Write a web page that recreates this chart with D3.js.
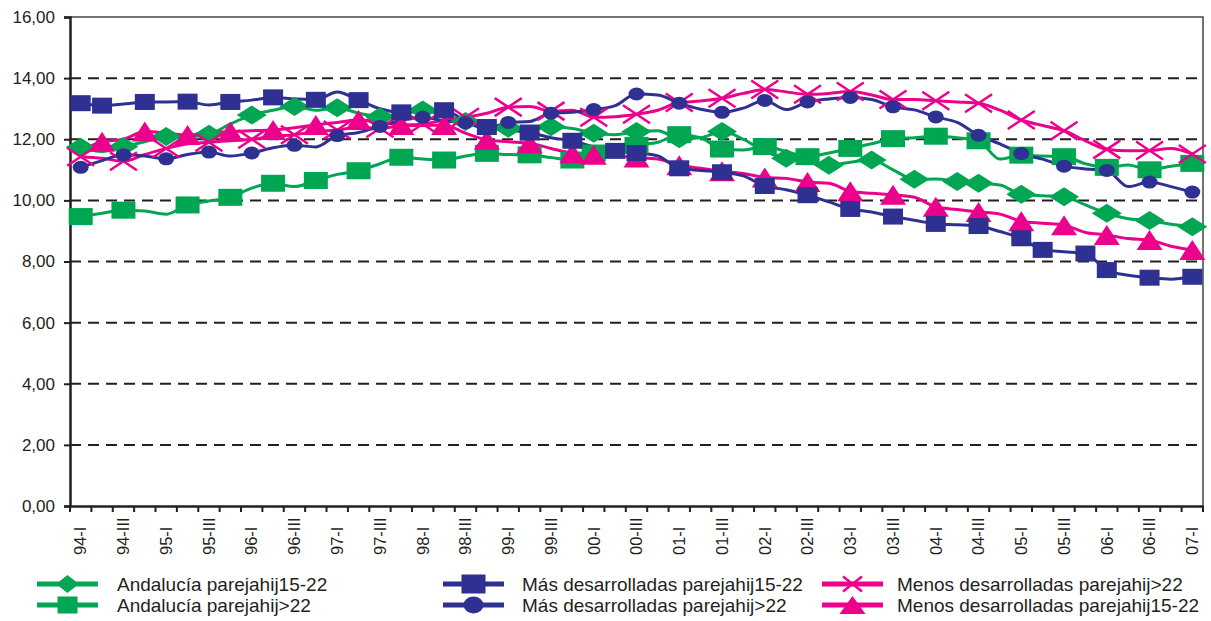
<!DOCTYPE html>
<html><head><meta charset="utf-8">
<script src="https://cdn.jsdelivr.net/npm/d3@7"></script>
<style>
body{margin:0;background:#fff}
svg{display:block}
text{font-family:"Liberation Sans",Arial,Helvetica,sans-serif;fill:#231f20}
</style>
</head><body>
<svg id="c" width="1211" height="621"></svg>
<script>
// ---------- DATA ----------
const quarters = [
 "94-I","94-II","94-III","94-IV","95-I","95-II","95-III","95-IV",
 "96-I","96-II","96-III","96-IV","97-I","97-II","97-III","97-IV",
 "98-I","98-II","98-III","98-IV","99-I","99-II","99-III","99-IV",
 "00-I","00-II","00-III","00-IV","01-I","01-II","01-III","01-IV",
 "02-I","02-II","02-III","02-IV","03-I","03-II","03-III","03-IV",
 "04-I","04-II","04-III","04-IV","05-I","05-II","05-III","05-IV",
 "06-I","06-II","06-III","06-IV","07-I"
];
const yTicks = [0,2,4,6,8,10,12,14,16];

const andalucia1522 = [
 11.74,11.60,11.76,11.92,12.09,12.08,12.16,12.50,12.79,12.95,
 13.07,12.95,13.03,12.85,12.74,12.80,12.96,12.75,12.58,12.40,
 12.36,12.30,12.41,12.35,12.20,12.15,12.25,12.28,12.02,12.05,
 12.25,12.00,11.60,11.38,11.28,11.15,11.25,11.32,11.00,10.69,
 10.70,10.62,10.56,10.50,10.20,10.15,10.12,9.85,9.58,9.40,
 9.34,9.22,9.14];
const andaluciaMas22 = [
 9.47,9.58,9.68,9.65,9.55,9.85,9.98,10.10,10.40,10.56,
 10.45,10.65,10.85,10.97,11.20,11.41,11.35,11.32,11.45,11.54,
 11.50,11.49,11.40,11.32,11.55,11.60,11.80,11.90,12.15,12.05,
 11.68,11.65,11.76,11.60,11.43,11.55,11.70,11.85,12.02,12.05,
 12.10,12.05,11.95,11.35,11.48,11.45,11.43,11.20,11.08,11.16,
 11.00,11.12,11.21];
const masDes1522 = [
 13.18,13.10,13.15,13.22,13.22,13.23,13.12,13.22,13.28,13.37,
 13.32,13.29,13.55,13.28,13.00,12.88,12.93,12.95,12.60,12.40,
 12.30,12.22,12.05,11.95,11.75,11.62,11.55,11.45,11.05,10.98,
 10.92,10.80,10.47,10.35,10.17,9.95,9.72,9.62,9.47,9.35,
 9.23,9.20,9.16,8.98,8.76,8.38,8.32,8.26,7.72,7.55,
 7.47,7.42,7.50];
const masDesMas22 = [
 11.08,11.30,11.49,11.45,11.36,11.50,11.58,11.45,11.55,11.72,
 11.80,11.75,12.12,12.22,12.42,12.62,12.72,12.60,12.54,12.35,
 12.55,12.58,12.85,12.88,12.97,13.10,13.48,13.45,13.18,12.98,
 12.88,13.02,13.27,12.97,13.22,13.32,13.37,13.30,13.06,12.96,
 12.73,12.55,12.13,11.85,11.53,11.35,11.12,11.03,10.98,10.45,
 10.60,10.45,10.27];
const menosDesMas22 = [
 11.43,11.38,11.28,11.50,11.70,11.85,11.90,11.95,12.00,12.10,
 12.15,12.25,12.30,12.40,12.36,12.45,12.50,12.62,12.72,12.85,
 13.05,13.07,12.92,12.95,12.72,12.74,12.82,12.95,13.20,13.25,
 13.34,13.50,13.63,13.55,13.47,13.50,13.56,13.45,13.30,13.30,
 13.26,13.22,13.18,12.95,12.63,12.45,12.28,11.95,11.67,11.62,
 11.63,11.70,11.52];
const menosDes1522 = [
 11.60,11.92,12.00,12.25,12.20,12.14,12.20,12.25,12.28,12.30,
 12.38,12.47,12.55,12.63,12.55,12.47,12.45,12.47,12.20,11.98,
 11.92,11.87,11.70,11.54,11.49,11.45,11.40,11.35,11.15,11.05,
 10.95,10.88,10.75,10.72,10.60,10.56,10.30,10.23,10.18,10.10,
 9.79,9.70,9.62,9.55,9.32,9.25,9.19,8.95,8.87,8.75,
 8.70,8.50,8.38];

// quarter indices where the markers are shown
const evenIdx = d3.range(0, 53, 2);
const markAndalucia1522 = [0,2,4,6,8,10,12,14,16,18,20,22,24,26,28,30,33,35,37,39,41,42,44,46,48,50,52];
const markAndaluciaMas22 = [0,2,5,7,9,11,13,15,17,19,21,23,24,26,28,30,32,34,36,38,40,42,44,46,48,50,52];
const markMasDes1522 = [0,1,3,5,7,9,11,13,15,17,19,21,23,25,26,28,30,32,34,36,38,40,42,44,45,47,48,50,52];
const markMasDesMas22 = evenIdx;
const markMenosDesMas22 = evenIdx;
const markMenosDes1522 = [1,3,5,7,9,11,13,15,17,19,21,23,24,26,28,30,32,34,36,38,40,42,44,46,48,50,52];

const GREEN = "#00a651", NAVY = "#2e3192", MAGENTA = "#ec008c";

const series = [
 {name:"Andalucía parejahij>22", values:andaluciaMas22, marks:markAndaluciaMas22, color:GREEN, shape:"square", w:24, h:17, lw:20, lh:17},
 {name:"Andalucía parejahij15-22", values:andalucia1522, marks:markAndalucia1522, color:GREEN, shape:"diamond", w:30, h:19, lw:23, lh:18},
 {name:"Menos desarrolladas parejahij>22", values:menosDesMas22, marks:markMenosDesMas22, color:MAGENTA, shape:"x", w:27, h:18, lw:19, lh:15},
 {name:"Menos desarrolladas parejahij15-22", values:menosDes1522, marks:markMenosDes1522, color:MAGENTA, shape:"triangle", w:26, h:20, lw:26, lh:18},
 {name:"Más desarrolladas parejahij>22", values:masDesMas22, marks:markMasDesMas22, color:NAVY, shape:"circle", w:16, h:13, lw:20, lh:17},
 {name:"Más desarrolladas parejahij15-22", values:masDes1522, marks:markMasDes1522, color:NAVY, shape:"square", w:20, h:16, lw:24, lh:19}
];
const legendOrder = [
 ["Andalucía parejahij15-22","Andalucía parejahij>22"],
 ["Más desarrolladas parejahij15-22","Más desarrolladas parejahij>22"],
 ["Menos desarrolladas parejahij>22","Menos desarrolladas parejahij15-22"]
];

// ---------- CHART ----------
const svg = d3.select("#c");
svg.append("rect").attr("width",1211).attr("height",621).attr("fill","#fff");
const P = {left:70, right:1203, top:17, bottom:506};
const INK = "#231f20";

const x = d3.scaleBand().domain(quarters).range([P.left, P.right]).padding(0);
const cx = q => x(q) + x.bandwidth()/2;
const y = d3.scaleLinear().domain([0,16]).range([P.bottom, P.top]);
const loc = d3.formatLocale({decimal:",", thousands:".", grouping:[3], currency:["","€"]});
const fmt = loc.format(".2f");

// gridlines
svg.append("g").selectAll("line").data(yTicks.filter(v => v > 0 && v < 16)).join("line")
  .attr("x1", P.left).attr("x2", P.right)
  .attr("y1", d => y(d)).attr("y2", d => y(d))
  .attr("stroke", INK).attr("stroke-width", 2).attr("stroke-dasharray", "11,7");

// plot border (top / right)
svg.append("path")
  .attr("d", `M${P.left},${P.top}H${P.right}V${P.bottom}`)
  .attr("fill","none").attr("stroke", "#444").attr("stroke-width", 1.5);

// y axis
const yAxis = d3.axisLeft(y).tickValues(yTicks).tickFormat(fmt).tickSize(6).tickPadding(9);
const gy = svg.append("g").attr("transform", `translate(${P.left},0)`).call(yAxis);
gy.select(".domain").attr("stroke", INK).attr("stroke-width", 2.5);
gy.selectAll(".tick line").attr("stroke", INK).attr("stroke-width", 2);
gy.selectAll(".tick text").attr("font-size", 17).attr("fill", INK)
  .style("font-family", '"Liberation Sans",Arial,sans-serif');

// x axis
const xAxis = d3.axisBottom(x).tickValues(quarters.filter((d,i) => i % 2 === 0)).tickSize(0).tickFormat("");
const gx = svg.append("g").attr("transform", `translate(0,${P.bottom})`).call(xAxis);
gx.select(".domain").attr("stroke", INK).attr("stroke-width", 2.5);
// tick marks between categories
svg.append("g").selectAll("line").data(quarters.map(q => x(q)).concat([P.right])).join("line")
  .attr("x1", d => d).attr("x2", d => d)
  .attr("y1", P.bottom).attr("y2", P.bottom + 6)
  .attr("stroke", INK).attr("stroke-width", 2);
// rotated labels
svg.append("g").selectAll("text").data(quarters.filter((d,i) => i % 2 === 0)).join("text")
  .attr("transform", d => `translate(${cx(d)},555) rotate(-90)`)
  .attr("dy", "0.35em").attr("text-anchor", "start")
  .attr("font-size", 16.5).text(d => d);

// markers
function drawMarker(g, s, w, h, cxp, cyp) {
  if (s.shape === "square") {
    g.append("rect").attr("x", cxp - w/2).attr("y", cyp - h/2).attr("width", w).attr("height", h).attr("fill", s.color);
  } else if (s.shape === "diamond") {
    g.append("path").attr("d", `M${cxp},${cyp-h/2}L${cxp+w/2},${cyp}L${cxp},${cyp+h/2}L${cxp-w/2},${cyp}Z`).attr("fill", s.color);
  } else if (s.shape === "circle") {
    g.append("ellipse").attr("cx", cxp).attr("cy", cyp).attr("rx", w/2).attr("ry", h/2).attr("fill", s.color);
  } else if (s.shape === "triangle") {
    g.append("path").attr("d", `M${cxp},${cyp-h/2}L${cxp+w/2},${cyp+h/2}L${cxp-w/2},${cyp+h/2}Z`).attr("fill", s.color);
  } else if (s.shape === "x") {
    g.append("path").attr("d", `M${cxp-w/2},${cyp-h/2}L${cxp+w/2},${cyp+h/2}M${cxp-w/2},${cyp+h/2}L${cxp+w/2},${cyp-h/2}`)
      .attr("stroke", s.color).attr("stroke-width", 2.5).attr("fill","none");
  }
}

const line = d3.line().x((d,i) => cx(quarters[i])).y(d => y(d)).curve(d3.curveMonotoneX);
const gLines = svg.append("g");
series.forEach(s => {
  gLines.append("path").datum(s.values).attr("d", line)
    .attr("fill","none").attr("stroke", s.color).attr("stroke-width", 3).attr("stroke-linejoin","round");
});
const gMarks = svg.append("g");
series.forEach(s => {
  const g = gMarks.append("g");
  s.marks.forEach(i => drawMarker(g, s, s.w, s.h, cx(quarters[i]), y(s.values[i])));
});

// legend
const legCols = [{lx:37, tx:117}, {lx:443, tx:522}, {lx:822, tx:897}];
const legRows = [584, 605];
legendOrder.forEach((col, ci) => {
  col.forEach((name, ri) => {
    const s = series.find(d => d.name === name);
    const g = svg.append("g");
    const ly = legRows[ri];
    const c = legCols[ci];
    g.append("line").attr("x1", c.lx).attr("x2", c.lx + 61).attr("y1", ly).attr("y2", ly)
      .attr("stroke", s.color).attr("stroke-width", 5);
    drawMarker(g, s, s.lw, s.lh, c.lx + 30.5, ly);
    g.append("text").attr("x", c.tx).attr("y", ly + 7).attr("font-size", 19).text(name);
  });
});
</script>
</body></html>
